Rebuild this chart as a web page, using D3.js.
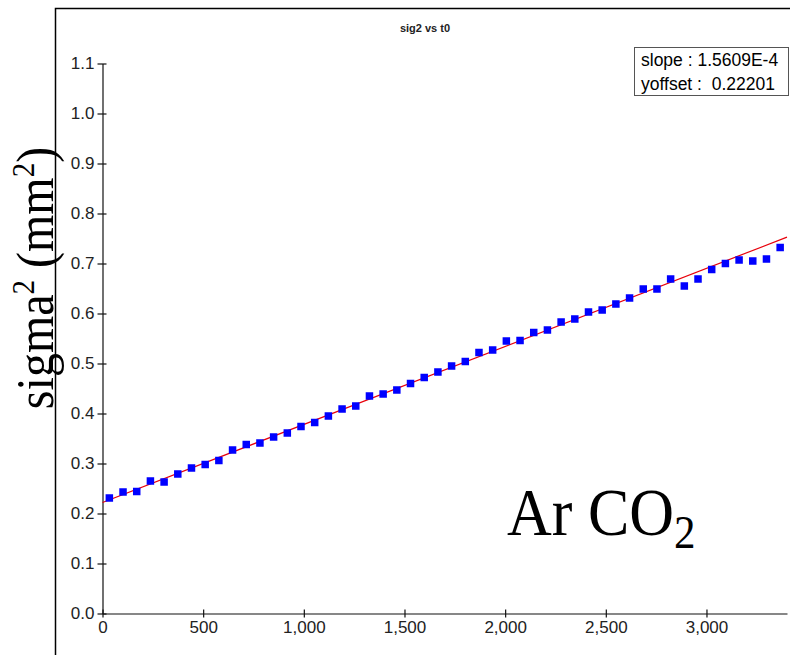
<!DOCTYPE html>
<html>
<head>
<meta charset="utf-8">
<script src="https://cdn.jsdelivr.net/npm/d3@7"></script>
<style>
  html, body { margin: 0; padding: 0; background: #fff; }
  svg { display: block; }
</style>
</head>
<body>
<svg id="chart" width="790" height="655"></svg>
<script>
// drift time t0 (ns) of each bin
const t0Values = [34, 102, 170, 238, 306, 374, 442, 510, 578, 646,
  714, 782, 850, 918, 986, 1054, 1122, 1190, 1258, 1326,
  1394, 1462, 1530, 1598, 1666, 1734, 1802, 1870, 1938, 2006,
  2074, 2142, 2210, 2278, 2346, 2414, 2482, 2550, 2618, 2686,
  2754, 2822, 2890, 2958, 3026, 3094, 3162, 3230, 3298, 3366];
// measured sigma^2 (mm^2) per bin
const sig2Values = [0.231, 0.243, 0.244, 0.265, 0.263, 0.279, 0.291, 0.298, 0.306, 0.327,
  0.338, 0.341, 0.353, 0.361, 0.374, 0.382, 0.395, 0.409, 0.415, 0.435,
  0.439, 0.447, 0.460, 0.472, 0.483, 0.495, 0.504, 0.522, 0.527, 0.545,
  0.546, 0.562, 0.567, 0.583, 0.589, 0.603, 0.607, 0.619, 0.631, 0.649,
  0.649, 0.669, 0.655, 0.669, 0.688, 0.700, 0.707, 0.705, 0.709, 0.732];
// linear fit
const fitSlope = 1.5609e-4;
const fitOffset = 0.22201;
const xTicks = [0, 500, 1000, 1500, 2000, 2500, 3000];
const yTicks = [0.0, 0.1, 0.2, 0.3, 0.4, 0.5, 0.6, 0.7, 0.8, 0.9, 1.0, 1.1];
const xDomain = [0, 3400];
const yDomain = [0, 1.1];

const svg = d3.select("#chart");
const x = d3.scaleLinear().domain(xDomain).range([102.5, 787]);
const y = d3.scaleLinear().domain(yDomain).range([613.5, 63.5]);

// outer frame
svg.append("path")
  .attr("d", "M55.5,655 V8.5 H790")
  .attr("fill", "none").attr("stroke", "#000").attr("stroke-width", 1.5);

// title
svg.append("text")
  .attr("x", 425).attr("y", 32)
  .attr("text-anchor", "middle")
  .attr("font-family", "Liberation Sans, Arial, sans-serif")
  .attr("font-size", 11).attr("font-weight", "bold")
  .attr("fill", "#222")
  .text("sig2 vs t0");

// axes
const fmtX = d3.format(",");
const xAxis = svg.append("g").attr("transform", `translate(0,${y(0)})`)
  .call(d3.axisBottom(x).tickValues(xTicks).tickFormat(fmtX).tickSize(4).tickSizeOuter(0));
const yAxis = svg.append("g").attr("transform", `translate(${x(0)},0)`)
  .call(d3.axisLeft(y).tickValues(yTicks).tickFormat(d3.format(".1f")).tickSize(5).tickSizeOuter(0));

[xAxis, yAxis].forEach(g => {
  g.select(".domain").attr("stroke", "#111").attr("stroke-width", 1.2);
  g.selectAll(".tick line").attr("stroke", "#111").attr("stroke-width", 1.2);
  g.selectAll("text")
    .attr("font-family", "Liberation Sans, Arial, sans-serif")
    .attr("font-size", 17).attr("fill", "#222");
});
// ticks cross the axis line
xAxis.selectAll(".tick line").attr("y1", -4).attr("y2", 4);
xAxis.selectAll(".tick text").attr("dy", "0.71em").attr("y", 7);
yAxis.selectAll(".tick line").attr("x1", 4).attr("x2", -5);
yAxis.selectAll(".tick text").attr("x", -8);

// fit line
svg.append("line")
  .attr("x1", x(xDomain[0])).attr("y1", y(fitOffset + fitSlope * xDomain[0]))
  .attr("x2", x(xDomain[1])).attr("y2", y(fitOffset + fitSlope * xDomain[1]))
  .attr("stroke", "#e8000b").attr("stroke-width", 1.2);

// data markers
const size = 7.5;
svg.append("g").selectAll("rect")
  .data(t0Values.map((t, i) => [t, sig2Values[i]]))
  .join("rect")
  .attr("x", d => x(d[0]) - size / 2)
  .attr("y", d => y(d[1]) - size / 2)
  .attr("width", size).attr("height", size)
  .attr("fill", "#0000ff");

// fit result box
const box = svg.append("g");
box.append("rect")
  .attr("x", 634.5).attr("y", 47.5).attr("width", 154).attr("height", 48)
  .attr("fill", "#fff").attr("stroke", "#555").attr("stroke-width", 1);
box.append("text")
  .attr("x", 641).attr("y", 66)
  .attr("font-family", "Liberation Sans, Arial, sans-serif")
  .attr("font-size", 17.5).attr("fill", "#000")
  .attr("xml:space", "preserve")
  .text("slope : 1.5609E-4");
box.append("text")
  .attr("x", 641).attr("y", 90)
  .attr("font-family", "Liberation Sans, Arial, sans-serif")
  .attr("font-size", 17.5).attr("fill", "#000")
  .attr("xml:space", "preserve")
  .text("yoffset :  0.22201");

// y axis title
const yTitle = svg.append("text")
  .attr("transform", "translate(53,278) rotate(-90) scale(1,1.12)")
  .attr("text-anchor", "middle")
  .attr("font-family", "Liberation Serif, Times New Roman, serif")
  .attr("font-size", 48).attr("fill", "#000");
yTitle.append("tspan").text("sigma");
yTitle.append("tspan").attr("font-size", 29).attr("dy", -17).text("2");
yTitle.append("tspan").attr("dy", 17).text(" (mm");
yTitle.append("tspan").attr("font-size", 29).attr("dy", -17).text("2");
yTitle.append("tspan").attr("dy", 17).text(")");

// gas annotation
const gas = svg.append("text")
  .attr("transform", "translate(507,535) scale(1,1.1)")
  .attr("font-family", "Liberation Serif, Times New Roman, serif")
  .attr("font-size", 62).attr("fill", "#000");
gas.append("tspan").text("Ar CO");
gas.append("tspan").attr("font-size", 43).attr("dy", 12).text("2");
</script>
</body>
</html>
